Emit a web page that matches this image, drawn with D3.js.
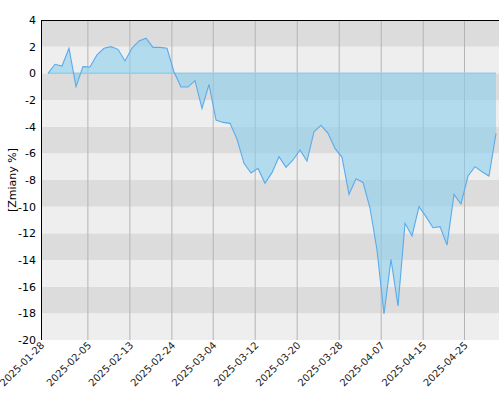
<!DOCTYPE html><html><head><meta charset="utf-8"><script src="https://cdn.jsdelivr.net/npm/d3@7"></script>
<style>body{margin:0;background:#fff}</style></head><body><svg id="c" width="500" height="400"></svg>
<script>
const values=[0,0.68,0.55,1.88,-1.0,0.5,0.48,1.38,1.88,2.0,1.8,0.93,1.9,2.43,2.63,1.95,1.95,1.88,0.1,-1.03,-1.03,-0.55,-2.63,-0.83,-3.5,-3.68,-3.75,-4.93,-6.75,-7.48,-7.13,-8.25,-7.45,-6.25,-7.05,-6.5,-5.75,-6.58,-4.38,-3.9,-4.5,-5.63,-6.3,-9.08,-7.9,-8.18,-10.1,-13.25,-18.05,-13.95,-17.45,-11.25,-12.2,-10.0,-10.75,-11.58,-11.5,-12.88,-9.08,-9.8,-7.7,-7.0,-7.38,-7.7,-4.5];
const tickLabels=["2025-01-28","2025-02-05","2025-02-13","2025-02-24","2025-03-04","2025-03-12","2025-03-20","2025-03-28","2025-04-07","2025-04-15","2025-04-25"];
const tickIdx=[-1,5.7,11.7,17.7,23.6,29.6,35.6,41.6,47.6,53.6,59.5];
const yTicks=d3.range(-20,5,2);
const L=41,R=499,T=20,B=340;
const svg=d3.select("#c");
const x=d3.scaleLinear().domain([-1,64]).range([L,496]);
const y=d3.scaleLinear().domain([-20,4]).range([B,T]);
for(let v=-20;v<4;v+=2){svg.append("rect").attr("x",L).attr("width",R-L).attr("y",y(v+2)).attr("height",y(v)-y(v+2)).attr("fill",((v/2)%2===0)?"#eeeeee":"#dcdcdc");}
svg.selectAll(".vg").data(tickIdx.slice(1)).enter().append("line").attr("x1",d=>x(d)).attr("x2",d=>x(d)).attr("y1",T).attr("y2",B).attr("stroke","#b4b4b4").attr("stroke-width",1);
const area=d3.area().x((d,i)=>x(i)).y0(y(0)).y1(d=>y(d));
svg.append("path").datum(values).attr("d",area).attr("fill","#8ccfee").attr("fill-opacity",0.6);
svg.append("line").attr("x1",x(0)).attr("x2",x(values.length-1)).attr("y1",y(0)).attr("y2",y(0)).attr("stroke","#8ccfee").attr("stroke-width",1.5);
svg.append("path").datum(values).attr("d",d3.line().x((d,i)=>x(i)).y(d=>y(d))).attr("fill","none").attr("stroke","#5aabea").attr("stroke-width",1.1);
svg.append("line").attr("x1",L).attr("x2",R).attr("y1",T+0.5).attr("y2",T+0.5).attr("stroke","#000");
svg.append("line").attr("x1",L+0.5).attr("x2",L+0.5).attr("y1",T).attr("y2",B).attr("stroke","#000");
svg.append("g").selectAll("text").data(yTicks).enter().append("text").attr("x",36).attr("y",d=>y(d)+4).attr("text-anchor","end").attr("font-family","DejaVu Sans").attr("font-size",11).text(d=>d);
svg.append("g").selectAll("text").data(tickIdx).enter().append("text").attr("transform",(d,i)=>`translate(${x(d)+4},${B+6}) rotate(-45)`).attr("text-anchor","end").attr("font-family","DejaVu Sans").attr("font-size",10).attr("fill","#222").text((d,i)=>tickLabels[i]);
svg.append("text").attr("transform",`translate(16,180) rotate(-90)`).attr("text-anchor","middle").attr("font-family","DejaVu Sans").attr("font-size",11).text("[Zmiany %]");
</script></body></html>
